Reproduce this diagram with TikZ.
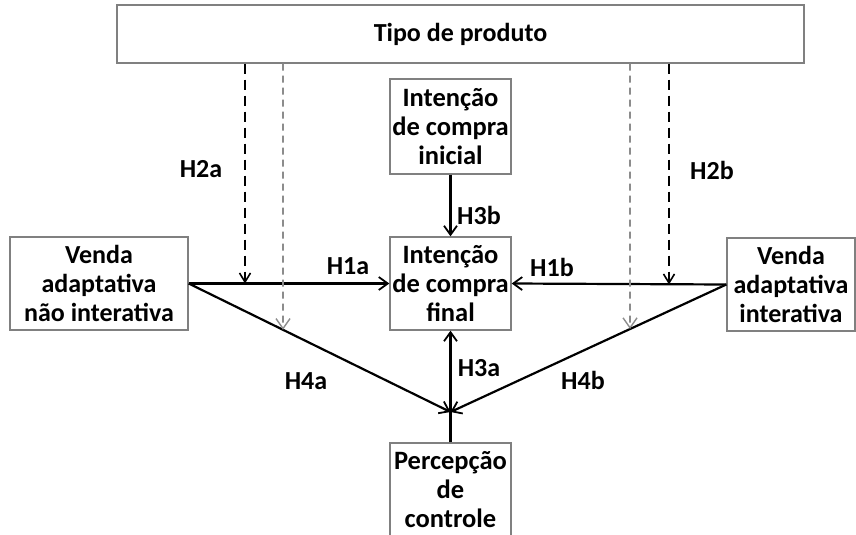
\documentclass[tikz,border=0pt]{standalone}
\usepackage{fontspec}
\setmainfont{Carlito}
\usetikzlibrary{arrows.meta,calc}
\definecolor{boxgray}{HTML}{808080}
\definecolor{dashgray}{HTML}{8C8C8C}
\tikzset{
  x=1pt, y=-1pt,
  box/.style={draw=boxgray, line width=1.4pt, fill=white, inner sep=0pt,
    align=center, font=\fontsize{26}{29}\selectfont\bfseries},
  midbox/.style={box, font=\fontsize{26.5}{29}\selectfont\bfseries},
  lbl/.style={font=\fontsize{26}{28}\selectfont\bfseries, inner sep=1pt},
  link/.style={draw=black, line width=2.2pt},
  tip/.style={-{Straight Barb[length=9pt,width=13pt,line width=1.8pt]}},
  moddark/.style={draw=black, line width=2.2pt, dash pattern=on 10pt off 6pt,
    -{Straight Barb[length=9pt,width=11pt,line width=1.6pt]}},
  modgray/.style={draw=dashgray, line width=1.6pt, dash pattern=on 7pt off 5pt,
    -{Straight Barb[length=10pt,width=14pt,line width=1.4pt]}},
}
\begin{document}
\begin{tikzpicture}
\useasboundingbox (0,0) rectangle (856,535);
\begin{scope}
\clip (0,0) rectangle (856,535);

% boxes
\node[box, minimum width=687pt, minimum height=58pt] (tipo) at (460.5,34) {Tipo de produto};
\node[midbox, minimum width=121pt, minimum height=95pt] (ini) at (450.5,126.5) {Intenção\\de compra\\inicial};
\node[midbox, minimum width=121pt, minimum height=93pt] (fin) at (450.5,283.5) {Intenção\\de compra\\final};
\node[midbox, minimum width=121pt, minimum height=93pt] (perc) at (450.5,489.5) {Percepção\\de\\controle};
\node[box, minimum width=178pt, minimum height=93pt] (nint) at (99,283.5) {Venda\\adaptativa\\não interativa};
\node[box, minimum width=128pt, minimum height=93pt] (inte) at (791,284.5) {Venda\\adaptativa\\interativa};

% meeting point of the H4 paths on the H3a link
\coordinate (meet) at (450.5,412);

% main links
\draw[link, tip] (nint.east) -- (fin.west);
\draw[link, tip] (inte.west) -- (fin.east);
\draw[link, tip] (ini.south) -- (fin.north);
\draw[link, tip] (perc.north) -- (fin.south);
\draw[link, tip] (nint.east) -- (meet);
\draw[link, tip] (inte.west) -- (meet);

% moderation by product type
\coordinate (xa) at (245,0);
\coordinate (xb) at (669,0);
\coordinate (ga) at (283,0);
\coordinate (gb) at (630,0);
\draw[moddark] (tipo.south -| xa) -- (xa |- nint.east);
\draw[moddark] (tipo.south -| xb) -- (xb |- inte.west);
\draw[modgray] (tipo.south -| ga) -- (intersection of nint.east--meet and ga--{283,500});
\draw[modgray] (tipo.south -| gb) -- (intersection of inte.west--meet and gb--{630,500});

% hypothesis labels
\node[lbl] (h2a) at (201,169) {H2a};
\node[lbl] (h2b) at (712,170) {H2b};
\node[lbl] (h1a) at (348,266) {H1a};
\node[lbl] (h1b) at (552,267) {H1b};
\node[lbl] (h3b) at (479,215) {H3b};
\node[lbl] (h3a) at (479,368) {H3a};
\node[lbl] (h4a) at (306,381) {H4a};
\node[lbl] (h4b) at (583,380) {H4b};
\end{scope}
\end{tikzpicture}
\end{document}
